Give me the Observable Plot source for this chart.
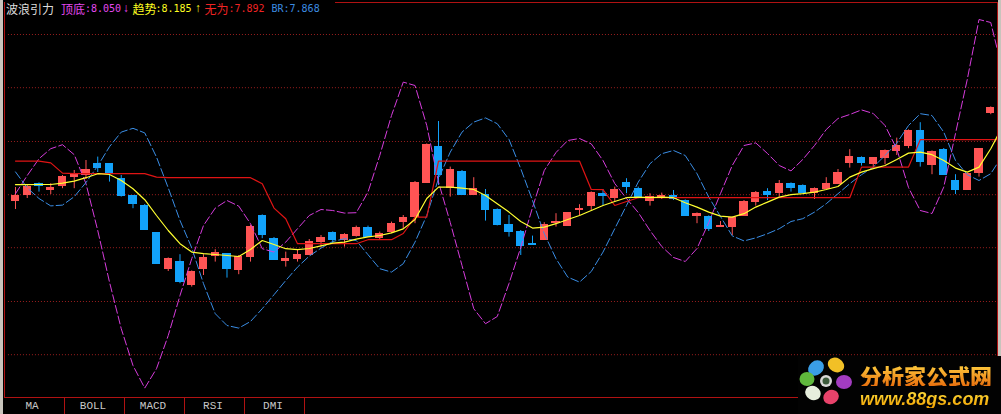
<!DOCTYPE html>
<html>
<head>
<meta charset="utf-8">
<script src="https://cdn.jsdelivr.net/npm/d3@7"></script>
<script src="https://cdn.jsdelivr.net/npm/@observablehq/plot@0.6"></script>
<style>
  html, body { margin:0; padding:0; background:#000; overflow:hidden; }
  #wrap { position:relative; width:1001px; height:414px; background:#000; overflow:hidden; }
  #chart { position:absolute; left:0; top:0; }
  #chart svg { display:block; }
  .abs { position:absolute; white-space:pre; }
  .cjk { font-family:"Noto Sans CJK SC"; font-size:12px; line-height:12px; top:3px; }
  .num { font-family:"DejaVu Sans Mono"; font-size:10px; line-height:10px; top:4px; }
  .arr { font-family:"Liberation Mono"; font-size:12px; line-height:12px; top:3px; }
  .tab { font-family:"Liberation Mono"; font-size:11px; line-height:14px; color:#c8c8c8; top:399px; width:60px; text-align:center; }
  .sep { position:absolute; top:397px; width:1px; height:17px; background:#b01212; }
  .logo1 { font-family:"Noto Sans CJK SC"; font-weight:900; font-size:22px; line-height:22px;
           background:linear-gradient(#ffd040, #e8700e); -webkit-background-clip:text; background-clip:text; color:transparent; }
  .logo2 { font-family:"Liberation Sans"; font-weight:bold; font-style:italic; font-size:18px; line-height:18px;
           background:linear-gradient(#ffe040, #f0a000); -webkit-background-clip:text; background-clip:text; color:transparent; }
</style>
</head>
<body>
<div id="wrap">
  <div id="chart"></div>
</div>
<script>
// ---- data (prices) ----
const open = [7.900,7.930,7.985,7.957,7.975,8.020,8.029,8.087,8.083,8.008,
  7.925,7.875,7.739,7.559,7.595,7.479,7.559,7.625,7.634,7.555,
  7.622,7.825,7.712,7.600,7.612,7.630,7.695,7.742,7.705,7.725,
  7.764,7.717,7.745,7.797,7.820,7.992,8.170,7.967,8.047,7.930,
  7.929,7.855,7.780,7.745,7.685,7.705,7.789,7.775,7.855,7.875,
  7.934,7.917,7.992,7.959,7.900,7.917,7.925,7.900,7.825,7.820,
  7.770,7.770,7.825,7.897,7.947,7.942,7.987,7.975,7.942,7.962,
  7.987,8.089,8.117,8.084,8.117,8.150,8.175,8.250,8.080,8.155,
  8.000,7.955,8.039,8.339];
const high = [7.965,7.975,7.988,7.984,8.025,8.050,8.100,8.117,8.085,8.025,
  7.925,7.880,7.740,7.613,7.629,7.548,7.629,7.654,7.635,7.625,
  7.775,7.828,7.715,7.642,7.650,7.705,7.725,7.743,7.734,7.772,
  7.772,7.742,7.792,7.825,7.995,8.183,8.295,8.067,8.050,8.014,
  7.955,7.858,7.825,7.750,7.722,7.789,7.834,7.840,7.879,7.943,
  7.955,7.967,8.009,7.967,7.934,7.937,7.950,7.903,7.838,7.823,
  7.795,7.818,7.900,7.945,7.959,8.000,7.988,7.978,7.963,8.014,
  8.055,8.154,8.118,8.115,8.153,8.212,8.253,8.289,8.148,8.160,
  8.029,8.035,8.160,8.368];
const low = [7.855,7.910,7.942,7.930,7.959,7.959,8.005,8.040,7.992,7.917,
  7.859,7.750,7.585,7.545,7.484,7.467,7.525,7.592,7.512,7.529,
  7.592,7.709,7.603,7.567,7.592,7.625,7.667,7.684,7.667,7.717,
  7.717,7.705,7.734,7.759,7.784,7.990,7.975,7.917,7.928,7.925,
  7.797,7.773,7.717,7.625,7.680,7.703,7.767,7.773,7.825,7.850,
  7.875,7.892,7.934,7.909,7.872,7.905,7.900,7.820,7.784,7.745,
  7.770,7.725,7.820,7.872,7.900,7.917,7.942,7.940,7.905,7.959,
  7.984,8.062,8.072,8.062,8.079,8.125,8.159,8.067,8.029,8.025,
  7.930,7.953,8.017,8.329];
const close = [7.925,7.970,7.973,7.963,8.020,8.028,8.054,8.067,8.037,7.925,
  7.887,7.754,7.587,7.612,7.495,7.545,7.617,7.642,7.562,7.622,
  7.772,7.730,7.605,7.612,7.629,7.695,7.717,7.705,7.729,7.764,
  7.722,7.737,7.787,7.817,7.992,8.180,8.029,8.055,7.930,7.959,
  7.855,7.779,7.745,7.675,7.680,7.779,7.795,7.839,7.862,7.942,
  7.925,7.955,7.972,7.917,7.920,7.925,7.909,7.825,7.837,7.762,
  7.775,7.817,7.895,7.939,7.930,7.984,7.967,7.942,7.962,7.987,
  8.042,8.120,8.089,8.114,8.150,8.175,8.250,8.097,8.147,8.030,
  7.955,8.034,8.159,8.367];
// 趋势 (yellow)
const trend = [7.979,7.979,7.980,7.980,7.987,7.997,8.014,8.034,8.030,8.000,
  7.959,7.904,7.825,7.750,7.684,7.642,7.634,7.630,7.625,7.620,
  7.655,7.700,7.680,7.659,7.654,7.660,7.673,7.687,7.692,7.707,
  7.718,7.725,7.738,7.758,7.805,7.910,7.967,7.967,7.962,7.955,
  7.925,7.884,7.842,7.795,7.762,7.767,7.784,7.805,7.825,7.850,
  7.875,7.895,7.914,7.917,7.914,7.917,7.914,7.889,7.867,7.842,
  7.822,7.817,7.834,7.867,7.892,7.917,7.929,7.934,7.942,7.955,
  7.970,8.017,8.042,8.059,8.075,8.105,8.137,8.142,8.129,8.100,
  8.062,8.042,8.067,8.159,8.270];
// 无为 (red step)
const wuwei = [8.097,8.097,8.097,8.088,8.037,8.034,8.034,8.034,8.034,8.034,
  8.034,8.034,8.017,8.014,8.014,8.014,8.014,8.014,8.014,8.014,
  8.014,7.984,7.862,7.809,7.684,7.684,7.684,7.684,7.684,7.684,
  7.704,7.704,7.704,7.735,7.817,7.817,8.097,8.097,8.097,8.097,
  8.097,8.097,8.097,8.097,8.097,8.097,8.097,8.097,8.097,7.955,
  7.954,7.875,7.895,7.914,7.914,7.914,7.914,7.914,7.914,7.914,
  7.914,7.914,7.914,7.914,7.914,7.914,7.914,7.914,7.914,7.914,
  7.914,7.914,8.067,8.067,8.067,8.067,8.067,8.204,8.204,8.204,
  8.204,8.204,8.204,8.204,8.204];
// BR (blue dashed)
const br = [8.043,7.963,7.910,7.873,7.877,7.919,7.990,8.073,8.169,8.242,
  8.261,8.238,8.117,7.963,7.800,7.663,7.484,7.334,7.275,7.262,
  7.295,7.359,7.429,7.500,7.567,7.622,7.662,7.695,7.709,7.700,
  7.629,7.559,7.542,7.584,7.692,7.825,8.009,8.142,8.242,8.292,
  8.313,8.284,8.205,8.059,7.900,7.734,7.609,7.517,7.492,7.545,
  7.642,7.759,7.875,7.992,8.084,8.134,8.150,8.125,8.034,7.917,
  7.820,7.723,7.698,7.713,7.734,7.759,7.795,7.809,7.842,7.884,
  7.934,7.984,8.029,8.067,8.125,8.187,8.275,8.334,8.325,8.242,
  8.100,8.029,8.000,8.034,8.125];
// 顶底 (magenta dashed)
const dingdi = [7.934,8.025,8.109,8.159,8.179,8.129,7.984,7.750,7.492,7.259,
  7.075,6.962,7.059,7.225,7.425,7.609,7.775,7.862,7.900,7.872,
  7.784,7.659,7.642,7.692,7.759,7.825,7.855,7.850,7.837,7.839,
  7.942,8.125,8.325,8.492,8.475,8.275,7.992,7.790,7.575,7.359,
  7.284,7.320,7.485,7.665,7.865,8.050,8.140,8.200,8.210,8.183,
  8.100,7.985,7.910,7.840,7.750,7.670,7.615,7.595,7.660,7.790,
  7.935,8.075,8.175,8.188,8.135,8.075,8.048,8.105,8.175,8.255,
  8.310,8.330,8.353,8.335,8.275,8.158,7.965,7.850,7.835,7.967,
  8.235,8.505,8.805,8.790,8.550];
const gridLevels = [8.730, 8.464, 8.195, 7.929, 7.664, 7.395, 7.129];
const legendLabels = ["顶底", "趋势", "无为"];
const legendValues = [":8.050", ":8.185", ":7.892"];
const brLabel = "BR:7.868";
const tabLabels = ["MA", "BOLL", "MACD", "RSI", "DMI"];

// ---- styles ----
const UP = "#ff5454", DOWN = "#12a2fa";
const FRAME = "#b01212";

const day = d3.range(open.length);
const lineIdx = d3.range(trend.length);
const ups = day.filter(i => close[i] >= open[i]);
const downs = day.filter(i => close[i] < open[i]);
const HW = 0.36;

function candleMarks(idx, color) {
  return [
    Plot.ruleX(idx, {x: i => i, y1: i => low[i], y2: i => high[i], stroke: color, strokeWidth: 1}),
    Plot.rect(idx, {x1: i => i - HW, x2: i => i + HW, y1: i => open[i], y2: i => close[i], fill: color, shapeRendering: "crispEdges"}),
    Plot.ruleY(idx, {x1: i => i - HW, x2: i => i + HW, y: i => close[i], stroke: color, shapeRendering: "crispEdges"}),
    Plot.ruleY(idx, {x1: i => i - HW, x2: i => i + HW, y: i => open[i], stroke: color, shapeRendering: "crispEdges"})
  ];
}

const chart = Plot.plot({
  width: 1001,
  height: 414,
  marginTop: 2,
  marginBottom: 17,
  marginLeft: 4,
  marginRight: 4,
  style: {background: "#000", overflow: "hidden"},
  x: {domain: [-0.936, 83.574], axis: null},
  y: {domain: [6.915, 8.89], axis: null},
  marks: [
    Plot.ruleY(gridLevels, {x1: -0.6, x2: 83.574, stroke: "#9a1e1e", strokeDasharray: "1,2"}),
    Plot.frame({stroke: FRAME}),
    ...candleMarks(ups, UP),
    ...candleMarks(downs, DOWN),
    Plot.line(lineIdx, {x: i => i, y: i => dingdi[i], stroke: "#d63cdc", strokeWidth: 1, strokeDasharray: "8,3", clip: true}),
    Plot.line(lineIdx, {x: i => i, y: i => br[i], stroke: "#3a8ee6", strokeWidth: 1, strokeDasharray: "8,3", clip: true}),
    Plot.line(lineIdx, {x: i => i, y: i => wuwei[i], stroke: "#e01414", strokeWidth: 1.2, clip: true}),
    Plot.line(lineIdx, {x: i => i, y: i => trend[i], stroke: "#ffff30", strokeWidth: 1.2, clip: true})
  ]
});
document.getElementById("chart").appendChild(chart);

// ---- header / tabs / logo (HTML overlays) ----
const wrap = document.getElementById("wrap");
function add(html) { wrap.insertAdjacentHTML("beforeend", html); }

add(`<div class="abs" style="left:5px;top:0;width:330px;height:18px;background:#000"></div>`);
add(`<div class="abs cjk" style="left:6px;color:#dcdcdc">波浪引力</div>`);
const legendColors = ["#e448ee", "#ffff20", "#f02424"];
const labelX = [61, 132.5, 204.5];
const valueX = [85, 155.5, 228.5];
legendLabels.forEach((lab, k) => {
  add(`<div class="abs cjk" style="left:${labelX[k]}px;color:${legendColors[k]}">${lab}</div>`);
  add(`<div class="abs num" style="left:${valueX[k]}px;color:${legendColors[k]}">${legendValues[k]}</div>`);
});
add(`<div class="abs arr" style="left:122.5px;color:${legendColors[0]}">↓</div>`);
add(`<div class="abs arr" style="left:194.5px;color:${legendColors[1]}">↑</div>`);
add(`<div class="abs num" style="left:271.5px;color:#3c8ce0">${brLabel}</div>`);

// side strips
add(`<div class="abs" style="left:0;top:0;width:3px;height:414px;background:#c8c4bc"></div>`);
add(`<div class="abs" style="left:998px;top:0;width:3px;height:356px;background:#c8c4bc"></div>`);

// tabs
const tabLeft = [2, 63, 123, 183, 243];
tabLabels.forEach((t, k) => add(`<div class="abs tab" style="left:${tabLeft[k]}px">${t}</div>`));
[64, 124, 184, 244, 304].forEach(x => add(`<div class="sep" style="left:${x}px"></div>`));

// logo
add(`<div class="abs" style="left:798px;top:356px;width:203px;height:58px;background:#020202">
  <svg width="60" height="58" style="position:absolute;left:0;top:0">
    <ellipse cx="18" cy="12" rx="8.5" ry="7" fill="#3a9ee6" transform="rotate(-40 18 12)"/>
    <ellipse cx="38" cy="9" rx="8.5" ry="7" fill="#f2c026" transform="rotate(30 38 9)"/>
    <ellipse cx="46" cy="26" rx="8" ry="7" fill="#a33cc0"/>
    <ellipse cx="33" cy="41" rx="8" ry="7" fill="#e8426a" transform="rotate(-30 33 41)"/>
    <ellipse cx="15" cy="37" rx="8" ry="7" fill="#e6eedc" transform="rotate(30 15 37)"/>
    <ellipse cx="9" cy="23" rx="7.5" ry="7" fill="#5fb83c"/>
    <circle cx="28" cy="25" r="6" fill="#d8d8d8"/>
    <circle cx="28" cy="25" r="3.5" fill="#3c5a3c"/>
  </svg>
  <div class="abs logo1" style="left:62px;top:8px">分析家公式网</div>
  <div class="abs logo2" style="left:62px;top:34px">www.88gs.com</div>
</div>`);
</script>
</body>
</html>
